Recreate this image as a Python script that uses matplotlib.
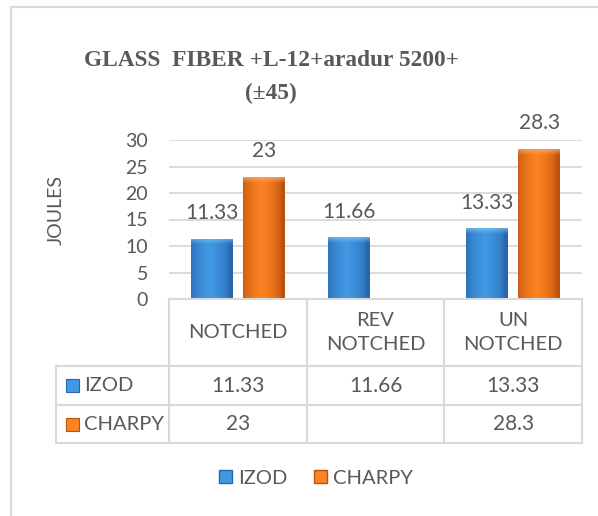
import numpy as np
import matplotlib.pyplot as plt
from matplotlib.patches import Rectangle, Patch
from matplotlib.colors import to_rgb

# data
categories = ['NOTCHED', 'REV\nNOTCHED', 'UN\nNOTCHED']
izod = [11.33, 11.66, 13.33]
charpy = [23, np.nan, 28.3]
izod_labels = ['11.33', '11.66', '13.33']
charpy_labels = ['23', '', '28.3']
series_names = ['IZOD', 'CHARPY']
yticks = [0, 5, 10, 15, 20, 25, 30]
title_lines = ['GLASS  FIBER +L-12+aradur 5200+', '(\u00b145)']

W, H = 598, 516
GRAY = '#595959'
GRID = '#d9d9d9'
BLUE = ('#2766ac', '#4199e4', '#80c6f5')
ORANGE = ('#bb520c', '#ff8224', '#ffb068')

plt.rcParams['font.family'] = ['Lato', 'DejaVu Sans']


def fx(px):
    return px / W


def fy(py):
    return (H - py) / H


def shade(ax, patch, colors):
    # fake the excel bevel look with a clipped gradient image
    x0, y0 = patch.get_x(), patch.get_y()
    w, h = patch.get_width(), patch.get_height()
    if not np.isfinite(h) or h <= 0:
        return
    dark, mid, light = [np.array(to_rgb(c)) for c in colors]
    t = np.linspace(0, 1, 64)
    prof = np.clip(1 - np.abs(t - 0.45) * 2.1, 0, 1) ** 0.5
    row = dark[None, :] + (mid - dark)[None, :] * prof[:, None]
    n = 300
    img = np.repeat(row[None, :, :], n, axis=0)
    cap = 1.1 / h
    r = np.linspace(0, 1, n)
    k = np.clip(1 - r / cap, 0, 1)[:, None, None] * 0.7
    img = img * (1 - k) + light[None, None, :] * k
    im = ax.imshow(img, extent=[x0, x0 + w, y0, y0 + h], aspect='auto',
                   origin='upper', zorder=3, interpolation='bilinear')
    im.set_clip_path(patch)


fig = plt.figure(figsize=(W / 100, H / 100), dpi=100)

# chart border
fig.add_artist(Rectangle((fx(11), fy(540)), 1.0, fy(7) - fy(540),
                         transform=fig.transFigure, fill=False,
                         edgecolor=GRID, lw=1.5))

ax = fig.add_axes([fx(169), fy(299), fx(582) - fx(169), fy(140) - fy(299)])
x = np.arange(len(categories))
bw = 0.305
off = 0.19
b1 = ax.bar(x - off, izod, bw, color=BLUE[1], zorder=2)
b2 = ax.bar(x + off, charpy, bw, color=ORANGE[1], zorder=2)
for p in b1:
    shade(ax, p, BLUE)
for p in b2:
    shade(ax, p, ORANGE)

for xi, v, s in zip(x - off, izod, izod_labels):
    if s:
        ax.annotate(s, (xi, v), xytext=(0, 18.5), textcoords='offset points',
                    ha='center', va='center', fontsize=15, color=GRAY)
for xi, v, s in zip(x + off, charpy, charpy_labels):
    if s:
        ax.annotate(s, (xi, v), xytext=(0, 18.5), textcoords='offset points',
                    ha='center', va='center', fontsize=15, color=GRAY)

ax.set_xlim(-0.5, len(categories) - 0.5)
ax.set_ylim(0, 30)
ax.set_yticks(yticks)
ax.set_xticks([])
ax.tick_params(axis='y', length=0, pad=15, labelsize=14, labelcolor=GRAY)
ax.yaxis.grid(True, color=GRID, lw=1.3)
ax.set_axisbelow(True)
for s in ax.spines.values():
    s.set_visible(False)

fig.text(fx(56), fy(210), 'JOULES', rotation=90, ha='center', va='center',
         fontsize=14, color=GRAY)

for i, line in enumerate(title_lines):
    fig.text(fx(271), fy(60 + 33 * i), line, ha='center', va='center',
             family='Liberation Serif', weight='bold', fontsize=16.8, color=GRAY)

# data table under the plot
ppu = (582 - 169) / len(categories)
x_left = -0.5 - (169 - 56) / ppu
tax = fig.add_axes([fx(56), fy(443), fx(582) - fx(56), fy(299) - fy(443)])
tax.set_xlim(x_left, len(categories) - 0.5)
tax.set_ylim(144, 0)
tax.axis('off')
row_edges = [0, 67, 106, 144]
col_edges = np.arange(len(categories) + 1) - 0.5
lk = dict(color=GRID, lw=1.5, clip_on=False, solid_capstyle='projecting')
for ce in col_edges:
    tax.plot([ce, ce], [row_edges[0], row_edges[-1]], **lk)
tax.plot([x_left, x_left], [row_edges[1], row_edges[-1]], **lk)
tax.plot([col_edges[0], col_edges[-1]], [row_edges[0], row_edges[0]], **lk)
for re in row_edges[1:]:
    tax.plot([x_left, col_edges[-1]], [re, re], **lk)

for i, c in enumerate(categories):
    tax.text(i, (row_edges[0] + row_edges[1]) / 2, c, ha='center', va='center',
             fontsize=14.5, color=GRAY, linespacing=1.45)
rows = [izod_labels, charpy_labels]
cols = [BLUE, ORANGE]
for r, (name, vals, cc) in enumerate(zip(series_names, rows, cols)):
    yc = (row_edges[r + 1] + row_edges[r + 2]) / 2
    tax.add_patch(Rectangle((x_left + 10 / ppu, yc - 6.5), 13 / ppu, 13,
                            facecolor=cc[1], edgecolor=cc[0], lw=0.8, clip_on=False))
    tax.text(x_left + 28 / ppu, yc, name, ha='left', va='center',
             fontsize=14.5, color=GRAY)
    for i, s in enumerate(vals):
        tax.text(i, yc, s, ha='center', va='center', fontsize=15, color=GRAY)

handles = [Patch(facecolor=BLUE[1], edgecolor=BLUE[0]),
           Patch(facecolor=ORANGE[1], edgecolor=ORANGE[0])]
fig.legend(handles, series_names, loc='center', bbox_to_anchor=(fx(316), fy(478)),
           ncol=2, frameon=False, fontsize=14.5, handlelength=0.65, handleheight=0.65,
           handletextpad=0.3, columnspacing=1.3, labelcolor=GRAY)

fig.savefig('out.png', dpi=100, facecolor='white')
